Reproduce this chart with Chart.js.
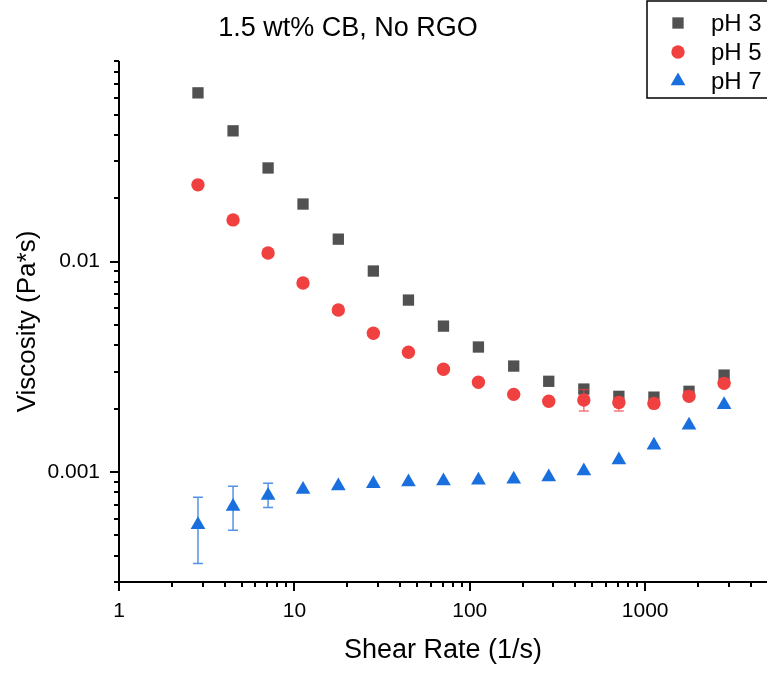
<!DOCTYPE html>
<html>
<head>
<meta charset="utf-8">
<script src="https://cdn.jsdelivr.net/npm/chart.js@4/dist/chart.umd.min.js"></script>
<style>
  html, body { margin: 0; padding: 0; background: #fff; }
  #wrap { width: 767px; height: 673px; }
</style>
</head>
<body>
<div id="wrap"><canvas id="chart" width="767" height="673"></canvas></div>
<script>
/* =========================
   DATA
========================= */
const shearRate = [2.82, 4.47, 7.08, 11.2, 17.8, 28.2, 44.7, 70.8, 112, 178, 282, 447, 708, 1122, 1778, 2818];

const ph3 = [0.0635, 0.0419, 0.0279, 0.0188, 0.0128, 0.00903, 0.00657, 0.00494, 0.00393, 0.00319, 0.00270, 0.00248, 0.00229, 0.00227, 0.00242, 0.00289];
const ph5 = [0.0232, 0.0158, 0.0110, 0.00792, 0.00589, 0.00457, 0.00371, 0.00308, 0.00267, 0.00234, 0.00217, 0.00220, 0.00214, 0.00212, 0.00229, 0.00264];
const ph7 = [0.000561, 0.000685, 0.000774, 0.000826, 0.000857, 0.000880, 0.000896, 0.000906, 0.000914, 0.000924, 0.000946, 0.00101, 0.00114, 0.00134, 0.00167, 0.00209];

// error bar bounds (null = none visible)
const ph5Lo = [null, null, null, null, null, null, null, null, null, null, null, 0.00195, 0.00195, 0.00205, 0.00225, null];
const ph5Hi = [null, null, null, null, null, null, null, null, null, null, null, 0.00247, 0.00226, 0.00222, 0.00242, null];
const ph7Lo = [0.000367, 0.000528, 0.000679, null, null, null, null, null, null, null, null, null, null, null, null, null];
const ph7Hi = [0.000758, 0.000855, 0.000884, null, null, null, null, null, null, null, null, null, null, null, null, null];

const seriesNames = ["pH 3", "pH 5", "pH 7"];
const xTickLabels = [1, 10, 100, 1000];
const yTickLabels = [0.001, 0.01];

/* =========================
   STYLE
========================= */
const FONT = "'Liberation Sans', Arial, sans-serif";
const GRAY = "#515151";
const RED = "#F14040";
const BLUE = "#1A6FDF";

function pts(ys) {
    return shearRate.map((v, i) => ({ x: v, y: ys[i] }));
}

function drawMarker(ctx, style, r, x, y, color) {
    ctx.fillStyle = color;
    ctx.beginPath();
    if (style === "rect") {
        const s = Math.SQRT1_2 * r;
        ctx.rect(x - s, y - s, 2 * s, 2 * s);
    } else if (style === "circle") {
        ctx.arc(x, y, r, 0, Math.PI * 2);
    } else {
        let a = 0;
        ctx.moveTo(x + Math.sin(a) * r, y - Math.cos(a) * r);
        a += 2 * Math.PI / 3;
        ctx.lineTo(x + Math.sin(a) * r, y - Math.cos(a) * r);
        a += 2 * Math.PI / 3;
        ctx.lineTo(x + Math.sin(a) * r, y - Math.cos(a) * r);
        ctx.closePath();
    }
    ctx.fill();
}

/* =========================
   PLUGIN: ejes, barras de error, leyenda, titulo
========================= */
const errorSets = [
    { lo: ph7Lo, hi: ph7Hi, color: "rgba(26,111,223,0.75)" },
    { lo: ph5Lo, hi: ph5Hi, color: "rgba(241,64,64,0.7)" }
];

const decorations = {
    id: "decorations",
    afterDatasetsDraw(chart) {
        const ctx = chart.ctx;
        const xs = chart.scales.x, ys = chart.scales.y;
        ctx.save();
        ctx.lineWidth = 1.5;
        errorSets.forEach(set => {
            ctx.strokeStyle = set.color;
            shearRate.forEach((sx, i) => {
                if (set.lo[i] == null) return;
                const px = xs.getPixelForValue(sx);
                const top = ys.getPixelForValue(set.hi[i]);
                const bot = ys.getPixelForValue(set.lo[i]);
                ctx.beginPath();
                ctx.moveTo(px, top); ctx.lineTo(px, bot);
                ctx.moveTo(px - 5, top); ctx.lineTo(px + 5, top);
                ctx.moveTo(px - 5, bot); ctx.lineTo(px + 5, bot);
                ctx.stroke();
            });
        });
        ctx.restore();
    },
    afterDraw(chart) {
        const ctx = chart.ctx;
        const a = chart.chartArea;
        const xs = chart.scales.x, ys = chart.scales.y;
        ctx.save();
        ctx.strokeStyle = "#000";
        ctx.lineWidth = 2;
        ctx.beginPath();
        ctx.moveTo(a.left, a.top);
        ctx.lineTo(a.left, a.bottom);
        ctx.lineTo(a.right, a.bottom);
        ctx.stroke();

        // ticks mayores y menores
        ctx.beginPath();
        for (let d = 0; d <= 4; d++) {
            for (let m = 1; m <= 9; m++) {
                const v = m * Math.pow(10, d);
                if (v < xs.min || v > xs.max) continue;
                const px = Math.round(xs.getPixelForValue(v));
                ctx.moveTo(px, a.bottom);
                ctx.lineTo(px, a.bottom + (m === 1 ? 9 : 5));
            }
        }
        for (let d = -4; d <= -1; d++) {
            for (let m = 1; m <= 9; m++) {
                const v = m * Math.pow(10, d);
                if (v < ys.min * 0.999 || v > ys.max * 1.001) continue;
                const py = Math.round(ys.getPixelForValue(v));
                ctx.moveTo(a.left, py);
                ctx.lineTo(a.left - (m === 1 ? 9 : 5), py);
            }
        }
        ctx.stroke();

        // titulo
        ctx.fillStyle = "#000";
        ctx.font = "27px " + FONT;
        ctx.textAlign = "center";
        ctx.textBaseline = "middle";
        ctx.fillText("1.5 wt% CB, No RGO", 348, 29);

        // leyenda
        ctx.lineWidth = 1.5;
        ctx.strokeRect(647, 1, 130, 97);
        ctx.font = "24px " + FONT;
        ctx.textAlign = "left";
        chart.data.datasets.forEach((ds, i) => {
            const rowY = 23 + i * 29;
            drawMarker(ctx, ds.pointStyle, ds.pointRadius, 678, rowY, ds.backgroundColor);
            ctx.fillStyle = "#000";
            ctx.fillText(seriesNames[i], 711, rowY + 1);
        });
        ctx.restore();
    }
};

/* =========================
   CHART
========================= */
new Chart(document.getElementById("chart"), {
    type: "scatter",
    data: {
        datasets: [
            { label: seriesNames[0], data: pts(ph3), pointStyle: "rect", pointRadius: 8, backgroundColor: GRAY, borderWidth: 0, order: 3 },
            { label: seriesNames[1], data: pts(ph5), pointStyle: "circle", pointRadius: 6.7, backgroundColor: RED, borderWidth: 0, order: 2 },
            { label: seriesNames[2], data: pts(ph7), pointStyle: "triangle", pointRadius: 8.5, backgroundColor: BLUE, borderWidth: 0, order: 1 }
        ]
    },
    options: {
        responsive: false,
        animation: false,
        devicePixelRatio: 1,
        events: [],
        layout: { autoPadding: false, padding: { top: 61, right: 0, left: 0, bottom: 0 } },
        plugins: {
            legend: { display: false },
            tooltip: { enabled: false }
        },
        scales: {
            x: {
                type: "logarithmic",
                min: 1,
                max: 4950,
                grid: { display: false, drawTicks: false, tickLength: 0 },
                border: { display: false },
                afterFit: s => { s.height = 91; s.paddingLeft = 0; s.paddingRight = 0; },
                ticks: {
                    autoSkip: false,
                    maxRotation: 0,
                    padding: 17,
                    color: "#000",
                    font: { family: FONT, size: 21 },
                    callback: v => xTickLabels.includes(v) ? String(v) : ""
                },
                title: {
                    display: true,
                    text: "Shear Rate (1/s)",
                    color: "#000",
                    font: { family: FONT, size: 27 },
                    padding: { top: 0, bottom: 6 }
                }
            },
            y: {
                type: "logarithmic",
                min: 0.0003,
                max: 0.09,
                grid: { display: false, drawTicks: false, tickLength: 0 },
                border: { display: false },
                afterFit: s => { s.width = 119; s.paddingTop = 0; s.paddingBottom = 0; },
                ticks: {
                    autoSkip: false,
                    padding: 19,
                    color: "#000",
                    font: { family: FONT, size: 21 },
                    callback: v => yTickLabels.some(t => Math.abs(t - v) < t * 1e-6) ? String(v) : ""
                },
                title: {
                    display: true,
                    text: "Viscosity (Pa*s)",
                    color: "#000",
                    font: { family: FONT, size: 26 },
                    padding: { top: 12, bottom: 0 }
                }
            }
        }
    },
    plugins: [decorations]
});
</script>
</body>
</html>
